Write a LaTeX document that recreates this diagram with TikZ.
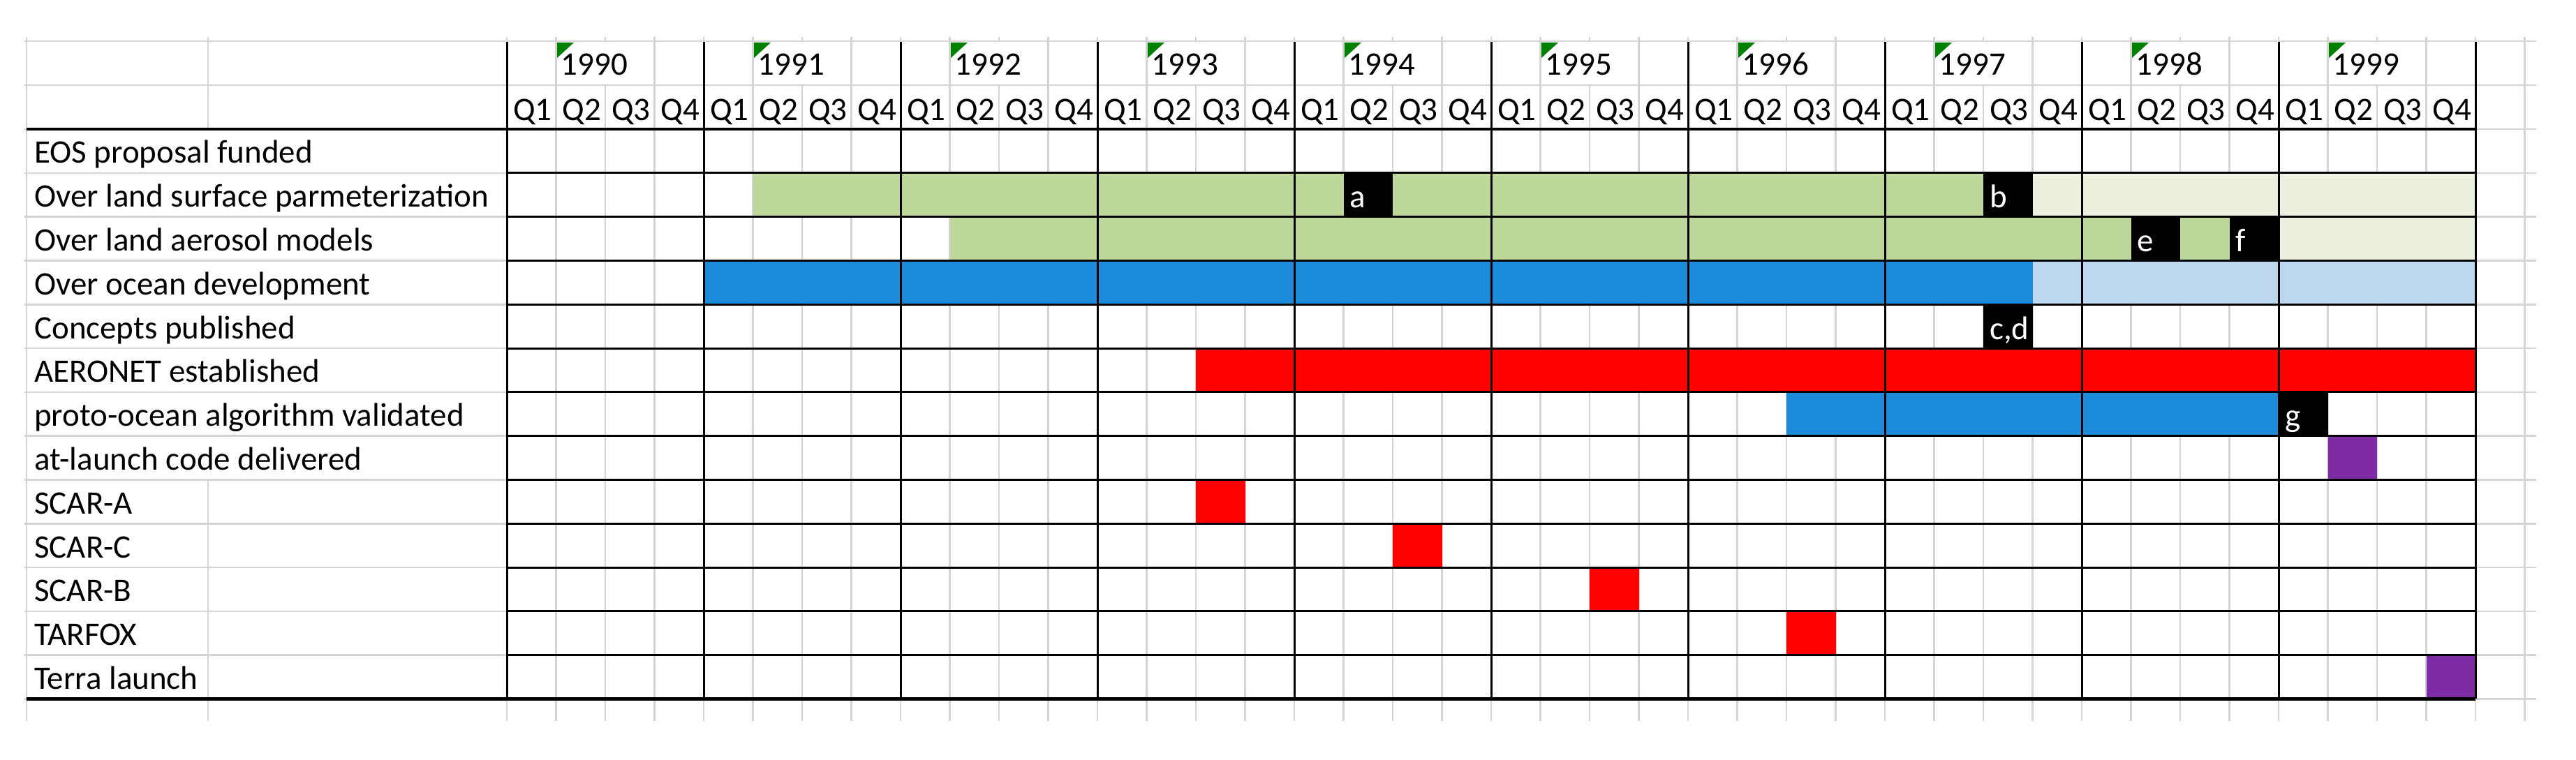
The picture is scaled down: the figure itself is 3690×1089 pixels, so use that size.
\documentclass[tikz,border=0pt]{standalone}
\usepackage{fontspec}
\setmainfont{Carlito}
\definecolor{lgreen}{RGB}{190,215,155}
\definecolor{pgreen}{RGB}{235,241,222}
\definecolor{oblue}{RGB}{28,139,217}
\definecolor{pblue}{RGB}{189,215,238}
\definecolor{ared}{RGB}{255,0,0}
\definecolor{vpurple}{RGB}{127,43,165}
\definecolor{gridgray}{RGB}{212,212,212}
\definecolor{flaggreen}{RGB}{0,128,0}
\newcommand\spanfill[4]{\fill[#1] ({726+70.5*#2},{185+62.8*#4}) rectangle ({726+70.5*(#3+1)},{185+62.8*(#4+1)});}
\newcommand\tagcell[4]{\fill[black] ({726+70.5*#1},{185+62.8*#2}) rectangle ({726+70.5*(#1+1)},{185+62.8*(#2+1)});
  \node[tagtxt] (#3) at ({726+70.5*#1+9},{185+62.8*(#2+1)-13}) {#4};}
\begin{document}
\begin{tikzpicture}[x=1pt,y=-1pt,
  gridline/.style={draw=gridgray,line width=2.6pt},
  rule/.style={draw=black,line width=3pt},
  heavyrule/.style={draw=black,line width=4.5pt},
  txt/.style={anchor=base west,inner sep=0pt,font=\fontsize{47}{56}\selectfont},
  tagtxt/.style={txt,text=white},
]
\useasboundingbox (0,0) rectangle (3690,1089);
% gray gridlines
\foreach \yy in {59,122} \draw[gridline] (35,\yy) -- (3633,\yy);
\foreach \i in {0,...,13} \draw[gridline] (35,{185+62.8*\i}) -- (3633,{185+62.8*\i});
\draw[gridline] (38,53) -- (38,1033);
\draw[gridline] (298,53) -- (298,185);
\draw[gridline] (298,{185+62.8*8}) -- (298,1033);
\foreach \k in {0,...,41} {
  \pgfmathtruncatemacro\m{mod(\k,4)}
  \ifnum\m=2
    \draw[gridline] ({726+70.5*\k},53) -- ({726+70.5*\k},59);
    \draw[gridline] ({726+70.5*\k},122) -- ({726+70.5*\k},1033);
  \else
    \draw[gridline] ({726+70.5*\k},53) -- ({726+70.5*\k},1033);
  \fi
}
% bars
\spanfill{lgreen}{5}{16}{1}
\tagcell{17}{1}{taga}{a}
\spanfill{lgreen}{18}{29}{1}
\tagcell{30}{1}{tagb}{b}
\spanfill{pgreen}{31}{39}{1}
\spanfill{lgreen}{9}{32}{2}
\tagcell{33}{2}{tage}{e}
\spanfill{lgreen}{34}{34}{2}
\tagcell{35}{2}{tagf}{f}
\spanfill{pgreen}{36}{39}{2}
\spanfill{oblue}{4}{30}{3}
\spanfill{pblue}{31}{39}{3}
\tagcell{30}{4}{tagcd}{c,d}
\spanfill{ared}{14}{39}{5}
\spanfill{oblue}{26}{35}{6}
\tagcell{36}{6}{tagg}{g}
\spanfill{vpurple}{37}{37}{7}
\spanfill{ared}{14}{14}{8}
\spanfill{ared}{18}{18}{9}
\spanfill{ared}{22}{22}{10}
\spanfill{ared}{26}{26}{11}
\spanfill{vpurple}{39}{39}{12}
% black borders
\draw[heavyrule] (38,185) -- (3546,185);
\foreach \i in {1,...,12} \draw[rule] (726,{185+62.8*\i}) -- (3546,{185+62.8*\i});
\draw[heavyrule] (38,1001.4) -- (3546,1001.4);
\foreach \k in {0,...,10} \draw[rule] ({726+282*\k},60) -- ({726+282*\k},1001.4);
% green corner flags
\foreach \k in {0,...,9} \fill[flaggreen] ({726+282*\k+72},61) -- ++(24,0) -- ++(-24,22) -- cycle;
% header texts
\foreach \k in {0,...,9} {
  \pgfmathtruncatemacro\yr{1990+\k}
  \node[txt] (y\yr) at ({726+282*\k+70.5+7},108) {\yr};
}
\foreach \k in {0,...,39} {
  \pgfmathtruncatemacro\qq{mod(\k,4)+1}
  \node[txt] (q\k) at ({726+70.5*\k+9},172) {Q\qq};
}
% row labels
\foreach \t [count=\i from 0] in {EOS proposal funded,Over land surface parmeterization,Over land aerosol models,Over ocean development,Concepts published,AERONET established,proto-ocean algorithm validated,at-launch code delivered,SCAR-A,SCAR-C,SCAR-B,TARFOX,Terra launch}
  \node[txt] (row\i) at (49,{185+62.8*(\i+1)-14}) {\t};
\end{tikzpicture}
\end{document}
